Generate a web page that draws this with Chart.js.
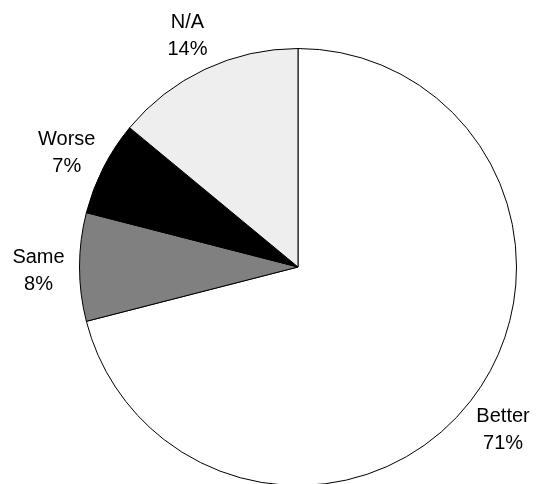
<!DOCTYPE html>
<html>
<head>
<meta charset="utf-8">
<script src="https://cdn.jsdelivr.net/npm/chart.js@4.4.0/dist/chart.umd.min.js"></script>
<style>
  html, body { margin: 0; padding: 0; background: #fff; overflow: hidden; }
  #wrap { width: 543px; height: 484px; overflow: hidden; }
  #wrap div { width: 543px; height: 490px; }
</style>
</head>
<body>
<div id="wrap"><div><canvas id="pie"></canvas></div></div>
<script>
// Answers to the question, in drawing order (clockwise from 12 o'clock)
const categories = ['Better', 'Same', 'Worse', 'N/A'];
const percentages = [71, 8, 7, 14];
const sliceColors = ['#ffffff', '#808080', '#000000', '#eeeeee'];

// Draws "Name / NN%" outside each slice, along its middle angle
const outsideLabels = {
    id: 'outsideLabels',
    afterDatasetsDraw(chart) {
        const ctx = chart.ctx;
        const meta = chart.getDatasetMeta(0);
        ctx.save();
        ctx.fillStyle = '#000';
        ctx.font = '20px "Liberation Sans", Arial, sans-serif';
        ctx.textAlign = 'center';
        ctx.textBaseline = 'middle';
        meta.data.forEach((arc, i) => {
            const mid = (arc.startAngle + arc.endAngle) / 2;
            const dist = arc.outerRadius + 41;
            const x = arc.x + Math.cos(mid) * dist;
            const y = arc.y + Math.sin(mid) * dist + 3;
            ctx.fillText(categories[i], x, y - 13);
            ctx.fillText(percentages[i] + '%', x, y + 14);
        });
        ctx.restore();
    }
};

new Chart(document.getElementById('pie'), {
    type: 'pie',
    data: {
        labels: categories,
        datasets: [{
            data: percentages,
            backgroundColor: sliceColors,
            borderColor: '#000',
            borderWidth: 1
        }]
    },
    options: {
        responsive: true,
        maintainAspectRatio: false,
        animation: false,
        layout: { padding: { top: 48, bottom: 4, left: 79, right: 26 } },
        plugins: {
            legend: { display: false },
            tooltip: { enabled: false }
        }
    },
    plugins: [outsideLabels]
});
</script>
</body>
</html>
